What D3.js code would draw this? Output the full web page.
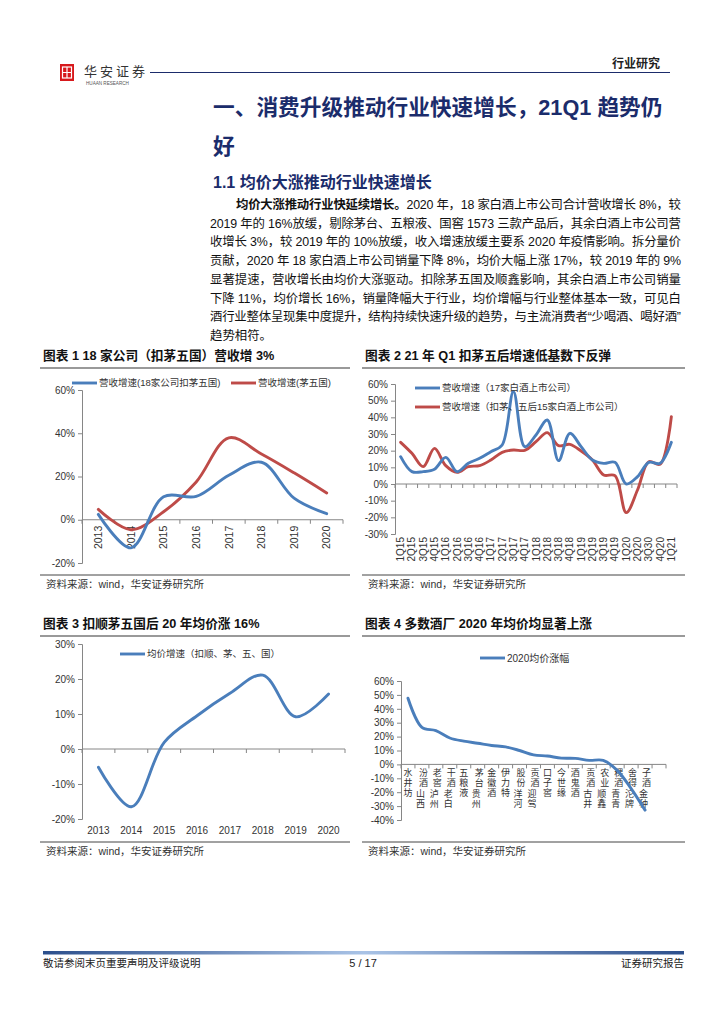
<!DOCTYPE html>
<html lang="zh">
<head>
<meta charset="utf-8">
<title>华安证券 行业研究 p5</title>
<script src="https://d3js.org/d3.v7.min.js"></script>
<style>
  body { margin: 0; background: #fff; }
  text { font-family: "Liberation Sans", "Noto Sans CJK SC", sans-serif; }
</style>
</head>
<body>
<script>
// ---- data ----
var years = ["2013", "2014", "2015", "2016", "2017", "2018", "2019", "2020"];
var rev18ex = [2.5, -13, 10.6, 10.8, 20.6, 26.6, 10, 2.8];      // 营收增速(18家公司扣茅五国)
var revMWG = [4.8, -4.6, 3.7, 17.5, 37.9, 30.4, 21.7, 12.4];    // 营收增速(茅五国)

var quarters = ["1Q15", "2Q15", "3Q15", "4Q15", "1Q16", "2Q16", "3Q16", "4Q16",
                "1Q17", "2Q17", "3Q17", "4Q17", "1Q18", "2Q18", "3Q18", "4Q18",
                "1Q19", "2Q19", "3Q19", "4Q19", "1Q20", "2Q20", "3Q30", "4Q20", "1Q21"];
var rev17 = [16.4, 7.4, 7.4, 8.8, 16, 7.4, 12.4, 15.4, 19.4, 23.4, 55.4, 22.4, 29.4,
             38.4, 14, 30.4, 22.4, 14.4, 12.4, 13, 0, 4.4, 13, 12.4, 25];
var rev15 = [25, 18.4, 10.4, 21.4, 11, 7, 10.4, 11, 14.4, 19, 20.4, 20.2, 25.4,
             30.8, 23, 23.8, 19.8, 14.4, 5.4, 5, -17.2, -3.6, 13.4, 11.8, 40.4];

var priceGrowth = [-5.2, -16.5, 1.9, 9.5, 15.9, 21.1, 9.2, 15.7]; // 均价增速（扣顺、茅、五、国）

var brewers = ["水井坊", "山西汾酒", "泸州老窖", "老白干酒", "五粮液", "贵州茅台", "金徽酒", "伊力特",
               "洋河股份", "迎驾贡酒", "口子窖", "今世缘", "酒鬼酒", "古井贡酒", "顺鑫农业",
               "青青稞酒", "沱牌舍得", "金种子酒"];
var price2020 = [47.6, 26.7, 24.3, 19, 16.7, 15.2, 13.6, 12.6, 10, 6.9, 6, 4.5, 4.3,
                 2.9, 2.9, -4.3, -17.4, -32.9];

var ticks1 = [-20, 0, 20, 40, 60];
var ticks2 = [-30, -20, -10, 0, 10, 20, 30, 40, 50, 60];
var ticks3 = [-20, -10, 0, 10, 20, 30];
var ticks4 = [-40, -30, -20, -10, 0, 10, 20, 30, 40, 50, 60];

var paraLines = [
  "2019 年的 16%放缓，剔除茅台、五粮液、国窖 1573 三款产品后，其余白酒上市公司营",
  "收增长 3%，较 2019 年的 10%放缓，收入增速放缓主要系 2020 年疫情影响。拆分量价",
  "贡献，2020 年 18 家白酒上市公司销量下降 8%，均价大幅上涨 17%，较 2019 年的 9%",
  "显著提速，营收增长由均价大涨驱动。扣除茅五国及顺鑫影响，其余白酒上市公司销量",
  "下降 11%，均价增长 16%，销量降幅大于行业，均价增幅与行业整体基本一致，可见白",
  "酒行业整体呈现集中度提升，结构持续快速升级的趋势，与主流消费者“少喝酒、喝好酒”",
  "趋势相符。"
];

var BLUE = "#4a7ebb", RED = "#be4b48", NAVY = "#1b2c6b", AXIS = "#868686";

var svg = d3.select("body").append("svg")
  .attr("width", 724).attr("height", 1024);

// ---- header ----
var logo = svg.append("g").attr("transform", "translate(60,64)");
logo.append("rect").attr("width", 14).attr("height", 17).attr("fill", "#d7191c");
logo.append("rect").attr("x", 2.5).attr("y", 3).attr("width", 9).attr("height", 11)
  .attr("fill", "none").attr("stroke", "#fff").attr("stroke-width", 1.2);
logo.append("path").attr("d", "M7,3V14M2.5,8.5H11.5").attr("stroke", "#fff").attr("stroke-width", 1.2);

svg.append("text").attr("x", 84).attr("y", 76).attr("font-size", 13)
  .attr("fill", "#333").attr("letter-spacing", 3).text("华安证券");
svg.append("text").attr("x", 86).attr("y", 85).attr("font-size", 4.6)
  .attr("fill", "#555").attr("font-family", "Liberation Serif").text("HUAAN RESEARCH");
svg.append("line").attr("x1", 150).attr("x2", 670).attr("y1", 72.5).attr("y2", 72.5)
  .attr("stroke", NAVY).attr("stroke-width", 1);
svg.append("text").attr("x", 660).attr("y", 68).attr("text-anchor", "end")
  .attr("font-size", 12).attr("font-weight", "bold").attr("fill", "#222").text("行业研究");

// ---- titles ----
svg.append("text").attr("x", 213).attr("y", 115).attr("font-size", 21.7)
  .attr("font-weight", "bold").attr("fill", NAVY).text("一、消费升级推动行业快速增长，21Q1 趋势仍");
svg.append("text").attr("x", 213).attr("y", 154).attr("font-size", 21.7)
  .attr("font-weight", "bold").attr("fill", NAVY).text("好");
svg.append("text").attr("x", 213).attr("y", 188).attr("font-size", 16)
  .attr("font-weight", "bold").attr("fill", NAVY).text("1.1  均价大涨推动行业快速增长");

// ---- paragraph ----
var first = svg.append("text").attr("x", 236).attr("y", 209).attr("font-size", 12.4)
  .attr("fill", "#111").attr("textLength", 445).attr("lengthAdjust", "spacing");
first.append("tspan").attr("font-weight", "bold").text("均价大涨推动行业快延续增长。");
first.append("tspan").text("2020 年，18 家白酒上市公司合计营收增长 8%，较");
paraLines.forEach(function(t, i) {
  var el = svg.append("text").attr("x", 210).attr("y", 209 + (i + 1) * 18.7)
    .attr("font-size", 12.4).attr("fill", "#111").text(t);
  if (i < paraLines.length - 1) el.attr("textLength", 471).attr("lengthAdjust", "spacing");
});

// ---- chart frames ----
function frame(x0, x1, yTitle, yBottom, title) {
  svg.append("text").attr("x", x0 + 3).attr("y", yTitle).attr("font-size", 12.7)
    .attr("font-weight", "bold").attr("fill", "#111").text(title);
  svg.append("line").attr("x1", x0).attr("x2", x1).attr("y1", yTitle + 8).attr("y2", yTitle + 8)
    .attr("stroke", "#999").attr("stroke-width", 2);
  svg.append("line").attr("x1", x0).attr("x2", x1).attr("y1", yBottom).attr("y2", yBottom)
    .attr("stroke", "#444").attr("stroke-width", 1);
  svg.append("text").attr("x", x0 + 6).attr("y", yBottom + 13).attr("font-size", 10.5)
    .attr("fill", "#333").text("资料来源：wind，华安证券研究所");
}
frame(40, 350, 360, 575, "图表 1 18 家公司（扣茅五国）营收增 3%");
frame(362, 685, 360, 575, "图表 2 21 年 Q1 扣茅五后增速低基数下反弹");
frame(40, 350, 628, 842, "图表 3 扣顺茅五国后 20 年均价涨 16%");
frame(362, 685, 628, 842, "图表 4 多数酒厂 2020 年均价均显著上涨");

var curve = d3.curveCatmullRom.alpha(0.5);

function yAxis(y, ticks, xPos) {
  var g = svg.append("g").attr("transform", "translate(" + xPos + ",0)")
    .call(d3.axisLeft(y).tickValues(ticks).tickFormat(function(d) { return d + "%"; })
      .tickSize(4).tickPadding(3));
  g.select(".domain").attr("stroke", AXIS);
  g.selectAll(".tick line").attr("stroke", AXIS);
  g.selectAll(".tick text").attr("font-size", 10).attr("fill", "#333")
    .attr("font-family", "Liberation Sans");
  return g;
}

function xBase(x, n, y0) {
  var r = x.range(), bw = x.bandwidth();
  svg.append("line").attr("x1", r[0]).attr("x2", r[0] + n * bw).attr("y1", y0).attr("y2", y0)
    .attr("stroke", AXIS);
  svg.append("g").selectAll("line").data(d3.range(n + 1)).enter().append("line")
    .attr("x1", function(i) { return r[0] + i * bw; })
    .attr("x2", function(i) { return r[0] + i * bw; })
    .attr("y1", y0).attr("y2", y0 + 4).attr("stroke", AXIS);
}

function drawLine(x, y, cats, vals, color) {
  var line = d3.line()
    .x(function(d, i) { return x(cats[i]) + x.bandwidth() / 2; })
    .y(function(d) { return y(d); })
    .curve(curve);
  svg.append("path").datum(vals).attr("d", line).attr("fill", "none")
    .attr("stroke", color).attr("stroke-width", 2.9).attr("stroke-linecap", "round");
}

function legend(x, y, color, label, fs) {
  svg.append("line").attr("x1", x).attr("x2", x + 25).attr("y1", y).attr("y2", y)
    .attr("stroke", color).attr("stroke-width", 2.9);
  svg.append("text").attr("x", x + 27).attr("y", y).attr("dy", "0.35em")
    .attr("font-size", fs).attr("fill", "#333").text(label);
}

function rotLabels(x, cats, yTop, fs) {
  svg.append("g").selectAll("text").data(cats).enter().append("text")
    .attr("transform", function(d) {
      return "translate(" + (x(d) + x.bandwidth() / 2) + "," + yTop + ") rotate(-90)";
    })
    .attr("text-anchor", "end").attr("dy", "0.35em")
    .attr("font-size", fs).attr("fill", "#333").text(function(d) { return d; });
}

// ---- chart 1 ----
var x1 = d3.scaleBand().domain(years).range([82, 343]);
var y1 = d3.scaleLinear().domain([-20, 60]).range([563, 390]);
yAxis(y1, ticks1, 82);
xBase(x1, years.length, y1(0));
rotLabels(x1, years, y1(0) + 6, 10.5);
drawLine(x1, y1, years, revMWG, RED);
drawLine(x1, y1, years, rev18ex, BLUE);
legend(72, 383, BLUE, "营收增速(18家公司扣茅五国)", 9.5);
legend(231, 383, RED, "营收增速(茅五国)", 9.5);

// ---- chart 2 ----
var x2 = d3.scaleBand().domain(quarters).range([395, 677]);
var y2 = d3.scaleLinear().domain([-30, 60]).range([534, 384]);
yAxis(y2, ticks2, 395);
xBase(x2, quarters.length, y2(0));
rotLabels(x2, quarters, 537, 10);
drawLine(x2, y2, quarters, rev15, RED);
drawLine(x2, y2, quarters, rev17, BLUE);
legend(415, 388, BLUE, "营收增速（17家白酒上市公司）", 9.5);
legend(415, 407, RED, "营收增速（扣茅、五后15家白酒上市公司）", 9.5);

// ---- chart 3 ----
var x3 = d3.scaleBand().domain(years).range([82, 345]);
var y3 = d3.scaleLinear().domain([-20, 30]).range([819, 644]);
yAxis(y3, ticks3, 82);
xBase(x3, years.length, y3(0));
svg.append("g").selectAll("text").data(years).enter().append("text")
  .attr("x", function(d) { return x3(d) + x3.bandwidth() / 2; })
  .attr("y", 834).attr("text-anchor", "middle").attr("font-size", 10).attr("fill", "#333")
  .text(function(d) { return d; });
drawLine(x3, y3, years, priceGrowth, BLUE);
legend(120, 654, BLUE, "均价增速（扣顺、茅、五、国）", 9.5);

// ---- chart 4 ----
var slot4 = (666 - 401) / 19;
var x4 = d3.scaleBand().domain(brewers).range([401, 401 + brewers.length * slot4]);
var y4 = d3.scaleLinear().domain([-40, 60]).range([820, 681]);
yAxis(y4, ticks4, 401);
svg.append("line").attr("x1", 401).attr("x2", 666).attr("y1", y4(0)).attr("y2", y4(0))
  .attr("stroke", AXIS);
svg.append("g").selectAll("line").data(d3.range(20)).enter().append("line")
  .attr("x1", function(i) { return 401 + i * slot4; })
  .attr("x2", function(i) { return 401 + i * slot4; })
  .attr("y1", y4(0)).attr("y2", y4(0) + 4).attr("stroke", AXIS);
// stacked vertical labels; 4-char names wrap into two staggered columns
var lab4 = svg.append("g");
brewers.forEach(function(name) {
  var cx = x4(name) + x4.bandwidth() / 2;
  var chars = name.split("");
  var cols = chars.length > 3 ? [{c: chars.slice(2), dx: 1.5, top: 768}, {c: chars.slice(0, 2), dx: -1.5, top: 789}]
                              : [{c: chars, dx: 0, top: 768}];
  cols.forEach(function(col) {
    col.c.forEach(function(ch, k) {
      lab4.append("text").attr("x", cx + col.dx).attr("y", col.top + k * 10.2 + 8)
        .attr("text-anchor", "middle").attr("font-size", 9).attr("fill", "#333").text(ch);
    });
  });
});
drawLine(x4, y4, brewers, price2020, BLUE);
legend(480, 658, BLUE, "2020均价涨幅", 10);

// ---- footer ----
var grad = svg.append("defs").append("linearGradient").attr("id", "foot");
grad.append("stop").attr("offset", "0%").attr("stop-color", "#2c4f8c");
grad.append("stop").attr("offset", "50%").attr("stop-color", "#a9c3e6");
grad.append("stop").attr("offset", "100%").attr("stop-color", "#2c4f8c");
svg.append("rect").attr("x", 43).attr("y", 951).attr("width", 641).attr("height", 3.5)
  .attr("fill", "url(#foot)");
svg.append("text").attr("x", 43).attr("y", 967).attr("font-size", 10.5).attr("fill", "#222")
  .text("敬请参阅末页重要声明及评级说明");
svg.append("text").attr("x", 363).attr("y", 967).attr("text-anchor", "middle")
  .attr("font-size", 11).attr("fill", "#222").text("5 / 17");
svg.append("text").attr("x", 684).attr("y", 967).attr("text-anchor", "end")
  .attr("font-size", 10.5).attr("fill", "#222").text("证券研究报告");
</script>
</body>
</html>
